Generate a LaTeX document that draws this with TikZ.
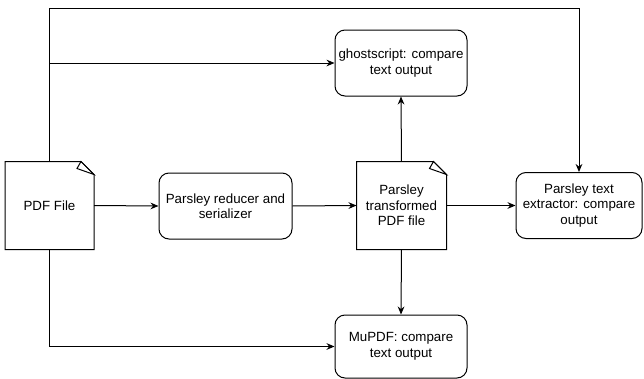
\documentclass[tikz,border=0pt]{standalone}
\usepackage{fontspec}
\setmainfont{Liberation Sans}
\usetikzlibrary{arrows.meta}

\tikzset{
  box/.style={draw,rounded corners=7.5pt,align=center,inner sep=0pt,
    minimum width=99pt,minimum height=49.5pt},
  doc/.style={align=center,inner sep=0pt,minimum width=66pt,minimum height=65.25pt},
  link/.style={-{Stealth[length=6pt,width=5pt]}},
}
% folded page outline round a named node
\newcommand{\pageoutline}[1]{
  \draw (#1.south west) -- (#1.north west) -- ([xshift=-9.75pt]#1.north east)
    -- ([yshift=-9.75pt]#1.north east) -- (#1.south east) -- cycle;
  \draw ([xshift=-9.75pt]#1.north east) -- ([xshift=-12.75pt,yshift=-5.25pt]#1.north east)
    -- ([yshift=-9.75pt]#1.north east) -- cycle;
}

\begin{document}
\begin{tikzpicture}[x=0.75pt,y=-0.75pt,line width=0.75pt,
  font=\fontsize{10}{11.6}\selectfont]
\useasboundingbox (0,0) rectangle (644,379);

\node[doc] (pdf) at (49.5,205.5) {PDF File};
\node[box,minimum width=99.75pt] (red) at (225.5,206) {Parsley reducer and\\serializer};
\node[doc,minimum width=66.75pt] (trans) at (401.5,205.5) {Parsley\\transformed\\PDF file};
\node[box] (gs) at (401,63) {ghostscript: compare\\text output};
\node[box,minimum width=94.5pt] (ext) at (579,205.5) {Parsley text\\extractor: compare\\output};
\node[box,minimum height=47.25pt] (mu) at (401,346.5) {MuPDF: compare\\text output};
\coordinate (top) at (0,8);

\pageoutline{pdf}
\pageoutline{trans}

\draw[link] (pdf.east) -- (red.west);
\draw[link] (red.east) -- (trans.west);
\draw[link] (trans.north) -- (gs.south);
\draw[link] (trans.south) -- (mu.north);
\draw[link] (trans.east) -- (ext.west);
\draw[link] (pdf.north) |- (gs.west);
\draw[link] (pdf.north) -- (pdf.north |- top) -| (ext.north);
\draw[link] (pdf.south) |- (mu.west);
\end{tikzpicture}
\end{document}
